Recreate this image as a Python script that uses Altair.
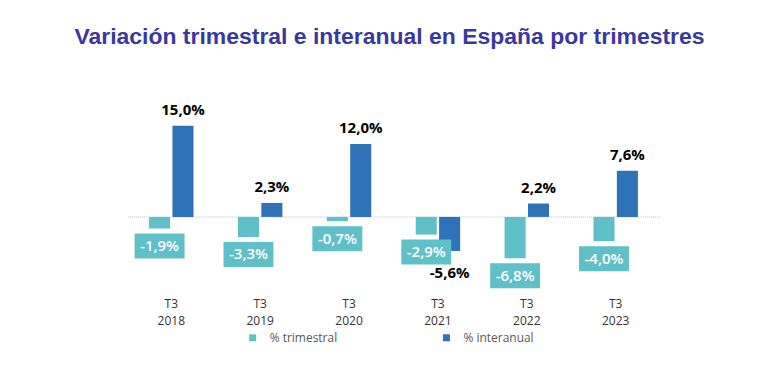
import altair as alt
import pandas as pd

periods = ["2018", "2019", "2020", "2021", "2022", "2023"]
quarter = "T3"
trimestral = [-1.9, -3.3, -0.7, -2.9, -6.8, -4.0]
interanual = [15.0, 2.3, 12.0, -5.6, 2.2, 7.6]
series = ["% trimestral", "% interanual"]
colors = ["#5fc0c7", "#2e72b8"]

rows = []
for p, t, i in zip(periods, trimestral, interanual):
    for s, v in ((series[0], t), (series[1], i)):
        rows.append({"periodo": p, "serie": s, "valor": v,
                     "etiqueta": f"{v:.1f}".replace(".", ",") + "%"})
df = pd.DataFrame(rows)

x = alt.X("periodo:N", sort=periods,
          scale=alt.Scale(paddingInner=0.5, paddingOuter=0.25),
          axis=alt.Axis(title=None, domain=False, ticks=False, labelAngle=0,
                        labelExpr=f"['{quarter}', datum.value]",
                        labelFont="Open Sans", labelFontSize=12, labelColor="#333333",
                        labelPadding=9, labelLineHeight=17, labelBaseline="top"))
xo = alt.XOffset("serie:N", sort=series,
                 scale=alt.Scale(domain=series, paddingInner=0.1, paddingOuter=0))
yscale = alt.Scale(domain=[-12, 22.5], nice=False, zero=False)
y = alt.Y("valor:Q", scale=yscale, axis=None)

base = alt.Chart(df)

zero = alt.Chart(pd.DataFrame({"z": [0]})).mark_rule(
    color="#cdd8ea", strokeDash=[1, 1], strokeWidth=1.5
).encode(y=alt.Y("z:Q", scale=yscale, axis=None))

bars = base.mark_bar().encode(
    x=x, xOffset=xo, y=y, y2=alt.datum(0),
    color=alt.Color("serie:N", sort=series,
                    scale=alt.Scale(domain=series, range=colors),
                    legend=alt.Legend(title=None, orient="none", direction="horizontal",
                                      columns=2, legendX=120, legendY=252,
                                      symbolType="square", symbolSize=49,
                                      symbolStrokeWidth=0, labelFont="Open Sans",
                                      labelFontSize=12, labelColor="#595959",
                                      labelOffset=11, columnPadding=103))
)

tri = base.transform_filter(alt.datum.serie == series[0])
boxes = tri.mark_point(
    shape="M-1,-0.5H1V0.5H-1Z", size=2500, filled=True, fill=colors[0],
    opacity=1, strokeWidth=0, yOffset=17.5
).encode(x=x, xOffset=xo, y=y)
box_text = tri.mark_text(
    color="white", font="Open Sans", fontSize=15, fontWeight=600,
    baseline="middle", yOffset=17.5
).encode(x=x, xOffset=xo, y=y, text="etiqueta:N")

inter = base.transform_filter(alt.datum.serie == series[1])
pos_text = inter.transform_filter(alt.datum.valor >= 0).mark_text(
    color="black", font="Open Sans", fontSize=15, fontWeight="bold",
    baseline="alphabetic", dy=-11
).encode(x=x, xOffset=xo, y=y, text="etiqueta:N")
neg_text = inter.transform_filter(alt.datum.valor < 0).mark_text(
    color="black", font="Open Sans", fontSize=15, fontWeight="bold",
    baseline="alphabetic", dy=27
).encode(x=x, xOffset=xo, y=y, text="etiqueta:N")

chart = alt.layer(zero, bars, boxes, box_text, pos_text, neg_text).properties(
    width=534, height=210,
    title=alt.Title("Variación trimestral e interanual en España por trimestres",
                    font="Liberation Sans", fontSize=23, fontWeight="bold",
                    color="#3838a0", anchor="middle", baseline="alphabetic",
                    offset=13, dx=-4),
    autosize=alt.AutoSizeParams(type="none"),
    padding={"left": 119, "top": 72, "right": 100, "bottom": 80},
).configure_view(stroke=None)

chart.save("out.html", embed_options={"renderer": "svg", "actions": False})
